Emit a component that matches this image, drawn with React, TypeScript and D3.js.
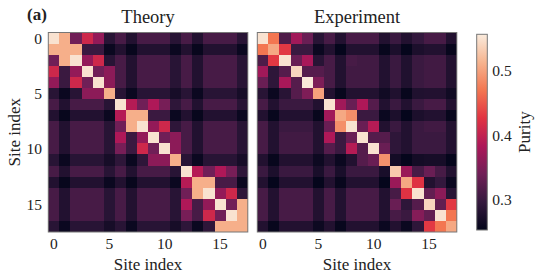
import * as d3 from 'd3';

// site indices along both axes
const sites = [0, 1, 2, 3, 4, 5, 6, 7, 8, 9, 10, 11, 12, 13, 14, 15, 16, 17];
const axisTicks = [0, 5, 10, 15];
const purityTicks = [0.3, 0.4, 0.5];
const purityRange = [0.253, 0.557];

// purity matrices (row = site i, column = site j)
const theory = [
  [.55, .51, .34, .41, .365, .285, .31, .28, .31, .31, .31, .285, .31, .28, .31, .31, .31, .285],
  [.51, .51, .51, .30, .30, .26, .28, .257, .28, .28, .28, .26, .28, .257, .28, .28, .28, .26],
  [.34, .51, .55, .365, .41, .285, .31, .28, .31, .31, .31, .285, .31, .28, .31, .31, .31, .285],
  [.41, .30, .365, .55, .34, .36, .31, .28, .31, .31, .31, .285, .31, .28, .31, .31, .31, .285],
  [.365, .30, .41, .34, .55, .36, .31, .28, .31, .31, .31, .285, .31, .28, .31, .31, .31, .285],
  [.285, .26, .285, .36, .36, .51, .285, .26, .285, .285, .285, .27, .285, .26, .285, .285, .285, .27],
  [.31, .28, .31, .31, .31, .285, .55, .39, .34, .385, .345, .29, .31, .28, .31, .31, .31, .285],
  [.28, .257, .28, .28, .28, .26, .39, .51, .51, .30, .30, .26, .28, .257, .28, .28, .28, .26],
  [.31, .28, .31, .31, .31, .285, .34, .51, .55, .365, .41, .29, .31, .28, .31, .31, .31, .285],
  [.31, .28, .31, .31, .31, .285, .385, .30, .365, .55, .34, .36, .31, .28, .31, .31, .31, .285],
  [.31, .28, .31, .31, .31, .285, .345, .30, .41, .34, .55, .36, .31, .28, .31, .31, .31, .285],
  [.285, .26, .285, .285, .285, .27, .29, .26, .29, .36, .36, .51, .285, .26, .285, .285, .285, .27],
  [.31, .28, .31, .31, .31, .285, .31, .28, .31, .31, .31, .285, .55, .39, .34, .385, .345, .29],
  [.28, .257, .28, .28, .28, .26, .28, .257, .28, .28, .28, .26, .39, .51, .51, .31, .31, .26],
  [.31, .28, .31, .31, .31, .285, .31, .28, .31, .31, .31, .285, .34, .51, .55, .365, .41, .29],
  [.31, .28, .31, .31, .31, .285, .31, .28, .31, .31, .31, .285, .385, .31, .365, .55, .34, .51],
  [.31, .28, .31, .31, .31, .285, .31, .28, .31, .31, .31, .285, .345, .31, .41, .34, .55, .51],
  [.285, .26, .285, .285, .285, .27, .285, .26, .285, .285, .285, .27, .29, .26, .29, .51, .51, .51],
];

const experiment = [
  [.55, .47, .315, .375, .335, .285, .31, .28, .31, .31, .31, .28, .30, .28, .295, .31, .31, .28],
  [.47, .505, .43, .30, .30, .26, .28, .255, .28, .28, .28, .257, .275, .255, .275, .28, .28, .257],
  [.315, .43, .55, .335, .38, .285, .31, .28, .31, .305, .305, .28, .30, .278, .30, .305, .305, .28],
  [.375, .29, .32, .54, .32, .32, .31, .28, .305, .305, .305, .28, .30, .278, .30, .305, .305, .28],
  [.335, .29, .38, .32, .555, .35, .31, .28, .305, .305, .305, .28, .30, .278, .30, .305, .305, .28],
  [.285, .26, .285, .32, .35, .50, .28, .257, .28, .28, .28, .265, .278, .257, .278, .28, .28, .265],
  [.31, .28, .30, .30, .30, .28, .55, .375, .335, .385, .32, .28, .30, .28, .30, .31, .31, .28],
  [.28, .257, .28, .28, .28, .257, .375, .505, .488, .30, .30, .26, .275, .255, .275, .28, .28, .257],
  [.31, .28, .30, .30, .30, .28, .335, .488, .55, .335, .39, .28, .30, .28, .30, .305, .305, .28],
  [.31, .28, .305, .305, .305, .28, .385, .30, .335, .55, .32, .32, .29, .28, .30, .30, .30, .28],
  [.31, .28, .305, .305, .305, .28, .32, .30, .39, .32, .55, .335, .29, .28, .30, .30, .30, .28],
  [.28, .257, .28, .28, .28, .262, .28, .26, .28, .32, .335, .49, .268, .255, .268, .27, .27, .255],
  [.30, .275, .30, .30, .30, .272, .30, .272, .30, .30, .30, .272, .53, .37, .31, .335, .31, .28],
  [.28, .255, .28, .28, .28, .255, .28, .257, .28, .28, .28, .255, .37, .505, .425, .28, .295, .26],
  [.31, .28, .31, .31, .31, .28, .31, .28, .31, .31, .31, .28, .31, .425, .55, .33, .36, .285],
  [.31, .28, .31, .31, .31, .28, .31, .28, .31, .31, .31, .28, .335, .29, .32, .54, .33, .43],
  [.31, .28, .31, .31, .31, .28, .31, .28, .31, .31, .31, .28, .31, .30, .355, .33, .55, .47],
  [.28, .257, .28, .28, .28, .262, .28, .257, .28, .28, .28, .26, .28, .26, .29, .43, .47, .505],
];

// seaborn "rocket" colormap samples
const rocket = ['#03051a', '#35193e', '#701f57', '#ad1759', '#e13342', '#f37651', '#f6b48f', '#faebdd'];

const FONT = '"Liberation Serif", "Times New Roman", serif';
const TOP = 32.5;
const SIZE = 199.5;
const FRAME = '#777';

const color = d3
  .scaleSequential(d3.piecewise(d3.interpolateRgb, rocket))
  .domain(purityRange as [number, number]);

interface HeatmapProps {
  data: number[][];
  left: number;
  title: string;
  showY: boolean;
}

const Heatmap = ({ data, left, title, showY }: HeatmapProps) => {
  const x = d3.scaleBand<number>().domain(sites).range([left, left + SIZE]);
  const y = d3.scaleBand<number>().domain(sites).range([TOP, TOP + SIZE]);
  const bw = x.bandwidth();
  const cx = left + SIZE / 2;

  return (
    <g>
      <g shapeRendering="crispEdges">
        {data.map((row, i) =>
          row.map((v, j) => (
            <rect
              key={`${i}-${j}`}
              x={x(j)}
              y={y(i)}
              width={bw + 0.4}
              height={y.bandwidth() + 0.4}
              fill={color(v)}
            />
          ))
        )}
      </g>
      <rect x={left} y={TOP} width={SIZE} height={SIZE} fill="none" stroke={FRAME} strokeWidth={1} />
      <text x={cx} y={23.3} textAnchor="middle" fontSize={18.5} fontFamily={FONT} fill="#222">
        {title}
      </text>
      {axisTicks.map((t) => (
        <text
          key={`x${t}`}
          x={(x(t) ?? 0) + bw / 2}
          y={249}
          textAnchor="middle"
          fontSize={15.5}
          fontFamily={FONT}
          fill="#222"
        >
          {t}
        </text>
      ))}
      <text x={cx} y={269.5} textAnchor="middle" fontSize={17} fontFamily={FONT} fill="#222">
        Site index
      </text>
      {showY &&
        axisTicks.map((t) => (
          <text
            key={`y${t}`}
            x={42}
            y={(y(t) ?? 0) + y.bandwidth() / 2}
            textAnchor="end"
            dominantBaseline="central"
            fontSize={15.5}
            fontFamily={FONT}
            fill="#222"
          >
            {t}
          </text>
        ))}
      {showY && (
        <text
          transform={`translate(19.5, ${TOP + SIZE / 2}) rotate(-90)`}
          textAnchor="middle"
          fontSize={17}
          fontFamily={FONT}
          fill="#222"
        >
          Site index
        </text>
      )}
    </g>
  );
};

export default function App() {
  const cbLeft = 476.7;
  const cbWidth = 10.6;
  const cbTop = 34.3;
  const cbBottom = 230;
  const cbScale = d3.scaleLinear().domain(purityRange).range([cbBottom, cbTop]);

  return (
    <svg
      width={540}
      height={279}
      style={{ position: 'absolute', left: 0, top: 0, display: 'block', background: '#fff' }}
    >
      <defs>
        <linearGradient id="rocket" x1="0" y1="1" x2="0" y2="0">
          {rocket.map((c, i) => (
            <stop key={c} offset={i / (rocket.length - 1)} stopColor={c} />
          ))}
        </linearGradient>
      </defs>
      <rect width={540} height={279} fill="#fff" />

      <text x={27} y={19.5} fontSize={17} fontWeight="bold" fontFamily={FONT} fill="#222">
        (a)
      </text>

      <Heatmap data={theory} left={48.3} title="Theory" showY />
      <Heatmap data={experiment} left={257.3} title="Experiment" showY={false} />

      {/* colorbar */}
      <rect
        x={cbLeft}
        y={cbTop}
        width={cbWidth}
        height={cbBottom - cbTop}
        fill="url(#rocket)"
        stroke={FRAME}
        strokeWidth={1}
      />
      {purityTicks.map((t) => (
        <text
          key={t}
          x={492.3}
          y={cbScale(t)}
          dominantBaseline="central"
          fontSize={15.5}
          fontFamily={FONT}
          fill="#222"
        >
          {t.toFixed(1)}
        </text>
      ))}
      <text
        transform={`translate(530, ${(cbTop + cbBottom) / 2}) rotate(-90)`}
        textAnchor="middle"
        fontSize={17}
        fontFamily={FONT}
        fill="#222"
      >
        Purity
      </text>
    </svg>
  );
}
